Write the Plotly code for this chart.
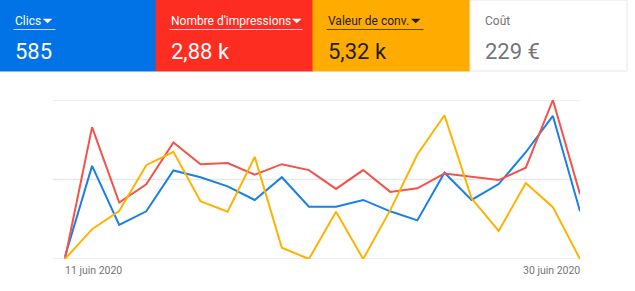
import plotly.graph_objects as go
import pandas as pd

W, H = 635, 291

dates = pd.date_range("2020-06-11", "2020-06-30", freq="D").strftime("%Y-%m-%d").tolist()
clics = [1, 41, 15, 21, 39, 36, 32, 26, 36, 23, 23, 26, 21, 17, 38, 26, 33, 47, 63, 21]
impressions = [0, 224, 96, 127, 198, 161, 163, 143, 161, 151, 119, 151, 114, 120, 145, 139, 134, 155, 270, 110]
conv_value = [0, 150, 241, 472, 539, 291, 238, 514, 57, 0, 238, 0, 246, 526, 723, 305, 141, 382, 261, 0]
grid_levels = [0, 35, 70]

tiles = [
    {"label": "Clics", "value": "585", "bg": "#0173e6", "fg": "#ffffff", "line": "rgba(255,255,255,0.75)", "drop": True},
    {"label": "Nombre d'impressions", "value": "2,88 k", "bg": "#fd2d22", "fg": "#ffffff", "line": "rgba(255,255,255,0.75)", "drop": True},
    {"label": "Valeur de conv.", "value": "5,32 k", "bg": "#ffab00", "fg": "#1f1f1f", "line": "rgba(60,40,0,0.8)", "drop": True},
    {"label": "Coût", "value": "229 €", "bg": "#ffffff", "fg": "#757575", "line": None, "drop": False},
]
x_labels = ["11 juin 2020", "30 juin 2020"]


def px(x):
    return x / W


def py(y):
    return 1 - y / H


fig = go.Figure()

fig.add_trace(go.Scatter(x=dates, y=impressions, mode="lines", yaxis="y2",
                         line=dict(color="#f3534a", width=2), hoverinfo="skip"))
fig.add_trace(go.Scatter(x=dates, y=clics, mode="lines", yaxis="y",
                         line=dict(color="#1a80e5", width=2), hoverinfo="skip"))
fig.add_trace(go.Scatter(x=dates, y=conv_value, mode="lines", yaxis="y3",
                         line=dict(color="#ffb300", width=2), hoverinfo="skip"))

shapes = []
annotations = []

for g in grid_levels:
    shapes.append(dict(type="line", xref="x domain", yref="y", x0=0, x1=1, y0=g, y1=g,
                       line=dict(color="#e8e8e8", width=1.5), layer="below"))

tile_x = [0, 156, 313, 470]
tile_w = [156, 157, 157, 157]
under_w = [42, 133, 97, 0]
tri_x = [42.8, 292, 411]
label_font = dict(family="Roboto, Arial, sans-serif", size=12)
value_font = dict(family="Roboto, Arial, sans-serif", size=22)

for i, t in enumerate(tiles):
    x0 = tile_x[i]
    x1 = x0 + tile_w[i]
    shapes.append(dict(type="rect", xref="paper", yref="paper",
                       x0=px(x0), x1=px(x1), y0=py(71), y1=py(0),
                       fillcolor=t["bg"],
                       line=dict(color="#e6e6ee" if t["bg"] == "#ffffff" else t["bg"], width=1),
                       layer="below"))
    annotations.append(dict(text=t["label"], xref="paper", yref="paper",
                            x=px(x0 + 13), y=py(21), xanchor="left", yanchor="middle",
                            showarrow=False, font=dict(color=t["fg"], **label_font)))
    annotations.append(dict(text=t["value"], xref="paper", yref="paper",
                            x=px(x0 + 13), y=py(51), xanchor="left", yanchor="middle",
                            showarrow=False, font=dict(color=t["fg"], **value_font)))
    if t["line"]:
        shapes.append(dict(type="line", xref="paper", yref="paper",
                           x0=px(x0 + 13.5), x1=px(x0 + 13.5 + under_w[i]),
                           y0=py(29.5), y1=py(29.5),
                           line=dict(color=t["line"], width=1)))
    if t["drop"]:
        tx = tri_x[i]
        path = "M {} {} L {} {} L {} {} Z".format(
            px(tx), py(18.8), px(tx + 9.5), py(18.8), px(tx + 4.75), py(23.3))
        shapes.append(dict(type="path", xref="paper", yref="paper", path=path,
                           fillcolor=t["fg"], line=dict(width=0)))

annotations.append(dict(text=x_labels[0], xref="x", yref="paper", x=dates[0], y=py(270),
                        xanchor="left", yanchor="middle", showarrow=False, xshift=-2,
                        font=dict(family="Roboto, Arial, sans-serif", size=10.5, color="#757575")))
annotations.append(dict(text=x_labels[1], xref="x", yref="paper", x=dates[-1], y=py(270),
                        xanchor="right", yanchor="middle", showarrow=False, xshift=2,
                        font=dict(family="Roboto, Arial, sans-serif", size=10.5, color="#757575")))

x_start = pd.Timestamp(dates[0]) - pd.Timedelta(hours=10.6)

fig.update_layout(
    width=W, height=H,
    margin=dict(l=0, r=0, t=0, b=0),
    paper_bgcolor="#ffffff", plot_bgcolor="#ffffff",
    showlegend=False,
    shapes=shapes,
    annotations=annotations,
    xaxis=dict(type="date", domain=[px(53), px(580)], range=[x_start, dates[-1]],
               showticklabels=False, showgrid=False, zeroline=False, showline=False, ticks=""),
    yaxis=dict(domain=[py(259), py(100)], range=[0, 70],
               showticklabels=False, showgrid=False,
               zeroline=False, showline=False, ticks=""),
    yaxis2=dict(overlaying="y", range=[0, 270], visible=False, showgrid=False),
    yaxis3=dict(overlaying="y", range=[0, 800], visible=False, showgrid=False),
)

fig.write_html("out.html")
